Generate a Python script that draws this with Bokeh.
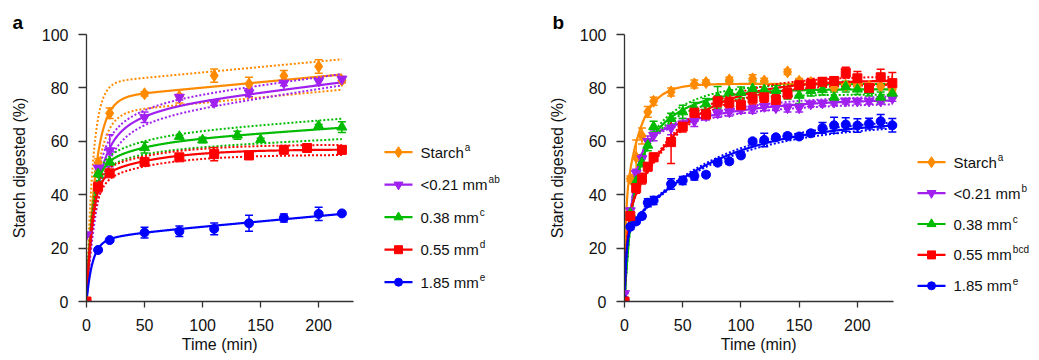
import numpy as np
from bokeh.plotting import figure
from bokeh.layouts import row
from bokeh.models import Range1d, ColumnDataSource, Whisker, TeeHead, FixedTicker, Title
from bokeh.embed import file_html
from bokeh.resources import INLINE
from bokeh.core.properties import value

# ---------------- series meta ----------------
names = ["Starch", "<0.21 mm", "0.38 mm", "0.55 mm", "1.85 mm"]
sup_a = ["a", "ab", "c", "d", "e"]
sup_b = ["a", "b", "c", "bcd", "e"]

# ---------------- panel a data ----------------
a_t_starch = [0, 10, 20, 50, 80, 110, 140, 170, 200, 220]
a_v_starch = [0, 52, 70.5, 77.8, 76.8, 84.6, 81.5, 84.5, 88, 82.8]
a_e_starch = [0, 1.5, 2, 0.8, 2.5, 2.5, 2.5, 2, 2.5, 1]

a_t_p021 = [0, 10, 20, 50, 80, 110, 140, 170, 200, 220]
a_v_p021 = [25, 50, 56.5, 69, 76.5, 74.5, 78.2, 81.8, 82.5, 83.3]
a_e_p021 = [0, 2, 6, 2, 1, 1, 1.5, 1, 1.5, 1]

a_t_p038 = [0, 10, 20, 50, 80, 100, 130, 150, 200, 220]
a_v_p038 = [0, 47.8, 52.2, 57.6, 61.8, 60.5, 62.3, 60.6, 65.8, 65.3]
a_e_p038 = [0, 1, 1, 2, 0.5, 1, 1.5, 0.5, 0.5, 2]

a_t_p055 = [0, 10, 20, 50, 80, 110, 140, 170, 190, 220]
a_v_p055 = [0, 43, 48, 52.3, 54, 55.2, 54.7, 56.8, 57.5, 56.8]
a_e_p055 = [0, 2, 1, 1, 1, 2.5, 1, 1, 1, 1.5]

a_t_p185 = [0, 10, 20, 50, 80, 110, 140, 170, 200, 220]
a_v_p185 = [0, 19.3, 23, 25.8, 26.3, 27.2, 29.3, 31.3, 32.8, 33]
a_e_p185 = [0, 0.8, 0.5, 2, 2, 2.2, 3, 1.5, 2.5, 0.5]

# fitted model parameters [A1, k1, A2, k2, slope]: fit, upper and lower band
a_fit_starch = [76, 0.128, 0, 0, 0.041]
a_hi_starch = [81.7, 0.18, 0, 0, 0.041]
a_lo_starch = [70.3, 0.12, 0, 0, 0.041]
a_fit_p021 = [50, 0.13, 20, 0.035, 0.055]
a_hi_p021 = [52.5, 0.15, 19.5, 0.035, 0.06]
a_lo_p021 = [47.5, 0.11, 18.5, 0.035, 0.068]
a_fit_p038 = [48, 0.2, 10.5, 0.03, 0.03]
a_hi_p038 = [49, 0.22, 12, 0.03, 0.034]
a_lo_p038 = [47, 0.18, 9, 0.03, 0.022]
a_fit_p055 = [45, 0.2, 12, 0.02, 0]
a_hi_p055 = [46.8, 0.22, 12, 0.02, 0]
a_lo_p055 = [43, 0.18, 12, 0.02, 0]
a_fit_p185 = [21, 0.2, 3, 0.05, 0.04]

# ---------------- panel b data ----------------
b_t_starch = [0, 5, 10, 15, 20, 25, 40, 60, 70, 90, 110, 120, 140, 150, 160, 170, 180, 190, 200, 210, 220, 230]
b_v_starch = [0, 46, 54, 62, 71, 75, 78.5, 81.5, 82, 83, 83.4, 82.6, 86, 82.5, 82, 81.5, 80, 81, 81, 80.5, 80.5, 79.5]
b_e_starch = [0, 1, 6.5, 3, 2, 1.5, 1.5, 1.5, 1, 1, 1.5, 1, 1, 1, 1, 1, 1, 1, 1, 1, 1, 1]

b_t_all = [0, 5, 10, 15, 20, 25, 40, 50, 60, 70, 80, 90, 100, 110, 120, 130, 140, 150, 160, 170, 180, 190, 200, 210, 220, 230]

b_v_p021 = [3, 34, 48, 53.5, 60, 62.2, 65, 66.5, 67.5, 69.5, 70.5, 71, 72, 72, 73, 72.5, 72.5, 72.5, 74, 74.3, 74.6, 75, 75, 75, 75, 76]
b_e_p021 = [0, 1, 1.5, 1.5, 2, 2, 2.5, 2, 2, 1.5, 1.5, 1.5, 1.5, 1.5, 1.5, 1, 1.5, 1.5, 1, 1, 1, 1, 1, 1, 1, 1]

b_v_p038 = [0, 33, 45, 52, 58.5, 65.5, 68.5, 71, 72.5, 74, 76.5, 78.5, 78.3, 79.7, 79.3, 79, 77.8, 77.2, 79, 79.3, 76.5, 80.5, 79.5, 79, 76.5, 78]
b_e_p038 = [0, 1, 1.5, 1.5, 2, 2, 2, 2.5, 2, 2, 4, 4, 2, 3, 3, 2, 2, 3, 2, 2, 2, 2, 2, 2, 2, 2]

b_v_p055 = [0, 32, 42.5, 46, 50.5, 54, 59.7, 65.5, 70.7, 70, 75, 74.5, 73.5, 76, 76.5, 75.5, 78, 81, 81.5, 82.3, 82.6, 85.7, 83.6, 80, 84, 81.8]
b_e_p055 = [0, 1.5, 2, 2, 1.5, 1.5, 8, 2, 2, 1.5, 2, 2, 2, 2, 2, 2, 2, 2, 2, 1.5, 1.5, 2, 2.5, 1.5, 3, 4]

b_v_p185 = [0.5, 28, 30, 32, 37, 37.8, 44, 45.3, 47, 47.5, 52, 52.5, 54.7, 60, 60.5, 61.5, 62, 61.8, 63, 65, 66, 66.3, 65.9, 66.6, 67.5, 66]
b_e_p185 = [0, 1, 1, 1, 1.5, 1.5, 2, 1.5, 1.5, 1, 1, 1, 1, 1, 2.5, 1, 1, 1, 1, 2, 3, 2.5, 2.5, 2, 2.5, 2.5]

b_fit_starch = [35, 1.0, 46.5, 0.075, 0]
b_fit_p021 = [58, 0.15, 18, 0.014, 0]
b_fit_p038 = [45, 0.15, 34.5, 0.03, 0]
b_fit_p055 = [30, 0.5, 53, 0.022, 0]
b_fit_p185 = [26, 0.6, 42, 0.013, 0]
b_band = [0, 1.5, 2.0, 1.5, 1.2]   # +/- on slow-phase amplitude

# ---------------- styling ----------------
colors = ["#FF8A00", "#A020F0", "#00BB00", "#FF0000", "#0000FF"]
markers = ["diamond", "inverted_triangle", "triangle", "square", "circle"]
msizes = [12, 10, 10, 9, 9]
FONT = "Liberation Sans"
AXC = "#333333"
TXT = "#111111"
FRAME_H = 267
TOP = 34
XLABEL = "Time (min)"
YLABEL = "Starch digested (%)"


def model(t, p):
    A1, k1, A2, k2, s = p
    return A1 * (1 - np.exp(-k1 * t)) + A2 * (1 - np.exp(-k2 * t)) + s * t


CW = {'S': .667, 't': .278, 'a': .556, 'r': .333, 'c': .5, 'h': .556, '<': .584, '.': .278, ' ': .278,
      'm': .833, 'T': .611, 'i': .222, 'e': .556, '(': .333, ')': .333, 'n': .556}


def twidth(s, size):
    return sum(CW.get(ch, .556) for ch in s) * size


def make_panel(letter, left, fw, axis_px, axis_max, tmax, series, fits, bands, sups, leg):
    sx = axis_px / axis_max             # pixels per minute
    xmax = fw / sx
    sy = FRAME_H / 100.0
    p = figure(frame_width=fw, frame_height=FRAME_H, x_range=Range1d(0, xmax), y_range=Range1d(0, 100),
               min_border_left=left, min_border_right=0, min_border_top=TOP, min_border_bottom=59,
               output_backend="svg", toolbar_location=None, title=letter)
    p.title.text_font = FONT
    p.title.text_font_size = "19px"
    p.title.text_font_style = "bold"
    p.title.text_color = "#000000"
    p.title.align = "left"
    p.title.offset = -left + 12
    p.title.standoff = 4
    p.grid.visible = False
    p.outline_line_color = None
    p.background_fill_color = None
    p.border_fill_color = None
    for ax in (p.xaxis[0], p.yaxis[0]):
        ax.axis_line_color = AXC
        ax.axis_line_width = 1.3
        ax.major_tick_line_color = AXC
        ax.major_tick_line_width = 1.3
        ax.major_tick_in = 0
        ax.minor_tick_line_color = None
        ax.major_label_text_font = FONT
        ax.major_label_text_font_size = "16px"
        ax.major_label_text_color = TXT
        ax.axis_label_text_font = FONT
        ax.axis_label_text_font_size = "16px"
        ax.axis_label_text_font_style = "normal"
        ax.axis_label_text_color = TXT
    p.xaxis.bounds = (0, axis_max)
    p.xaxis.ticker = FixedTicker(ticks=[0, 50, 100, 150, 200])
    p.yaxis.ticker = FixedTicker(ticks=[0, 20, 40, 60, 80, 100])
    p.xaxis.major_tick_out = 6
    p.yaxis.major_tick_out = 8
    p.xaxis.major_label_standoff = 11
    p.yaxis.major_label_standoff = 10
    p.yaxis.axis_label = YLABEL
    p.yaxis.axis_label_standoff = 11
    # x-axis title, centred under the axis span (the frame is wider to hold the legend)
    xt = Title(text=XLABEL, align="left", offset=axis_px / 2 - twidth(XLABEL, 16) / 2,
               text_font=FONT, text_font_size="16px", text_font_style="normal", text_color=TXT,
               standoff=0)
    p.add_layout(xt, "below")

    tt = np.linspace(0, tmax, 600)
    for i, (c, fp, bd) in enumerate(zip(colors, fits, bands)):
        for bp in bd:
            p.line(tt, model(tt, bp), line_color=c, line_width=2, line_dash="2 2")
        p.line(tt, model(tt, fp), line_color=c, line_width=2.2)
    for i in [0, 1, 2, 4, 3]:
        t, v, e = series[i]
        t = np.array(t, float); v = np.array(v, float); e = np.array(e, float)
        src = ColumnDataSource(dict(x=t, y=v, upper=v + e, lower=v - e))
        w = Whisker(base="x", upper="upper", lower="lower", source=src, line_color=colors[i], line_width=1.5,
                    upper_head=TeeHead(size=8, line_color=colors[i], line_width=1.5),
                    lower_head=TeeHead(size=8, line_color=colors[i], line_width=1.5))
        p.add_layout(w)
        p.scatter("x", "y", source=src, marker=markers[i], size=msizes[i], color=colors[i])

    # legend, drawn inside the (wider) frame to the right of the axis bounds
    gx0, gx1, tx, ry0, rdy = leg        # pixel offsets from the frame's left / top
    for i in range(5):
        yv = 100 - (ry0 + rdy * i) / sy
        p.segment(x0=[gx0 / sx], y0=[yv], x1=[gx1 / sx], y1=[yv], line_color=colors[i], line_width=2.2)
        p.scatter([(gx0 + gx1) / 2 / sx], [yv], marker=markers[i], size=msizes[i] - 1, color=colors[i])
        p.text([tx / sx], [yv], text=[names[i]], text_font=value(FONT), text_font_size="15px",
               text_baseline="middle", text_color=TXT)
        p.text([tx / sx], [yv], text=[sups[i]], text_font=value(FONT), text_font_size="10px",
               text_baseline="middle", text_color=TXT,
               x_offset=twidth(names[i], 15) + 1, y_offset=-5)
    return p


series_a = [(a_t_starch, a_v_starch, a_e_starch), (a_t_p021, a_v_p021, a_e_p021),
            (a_t_p038, a_v_p038, a_e_p038), (a_t_p055, a_v_p055, a_e_p055),
            (a_t_p185, a_v_p185, a_e_p185)]
fits_a = [a_fit_starch, a_fit_p021, a_fit_p038, a_fit_p055, a_fit_p185]
bands_a = [[a_hi_starch, a_lo_starch], [a_hi_p021, a_lo_p021], [a_hi_p038, a_lo_p038],
           [a_hi_p055, a_lo_p055], []]

series_b = [(b_t_starch, b_v_starch, b_e_starch), (b_t_all, b_v_p021, b_e_p021),
            (b_t_all, b_v_p038, b_e_p038), (b_t_all, b_v_p055, b_e_p055),
            (b_t_all, b_v_p185, b_e_p185)]
fits_b = [b_fit_starch, b_fit_p021, b_fit_p038, b_fit_p055, b_fit_p185]
bands_b = []
for fp, d in zip(fits_b, b_band):
    if d > 0:
        bands_b.append([[fp[0], fp[1], fp[2] + d, fp[3], fp[4]], [fp[0], fp[1], fp[2] - d, fp[3], fp[4]]])
    else:
        bands_b.append([])

# panel a: page x 0..540, frame from 86; panel b: page x 540..1039, frame from 624
pa = make_panel("a", 86, 454, 267, 230, 220, series_a, fits_a, bands_a, sup_a,
                (298, 326, 334, 151.7 - TOP, 32.5))
pb = make_panel("b", 84, 415, 269, 231, 230, series_b, fits_b, bands_b, sup_b,
                (293, 321, 329, 161.7 - TOP, 30.9))

layout = row(pa, pb)
open("out.html", "w").write(file_html(layout, INLINE))
